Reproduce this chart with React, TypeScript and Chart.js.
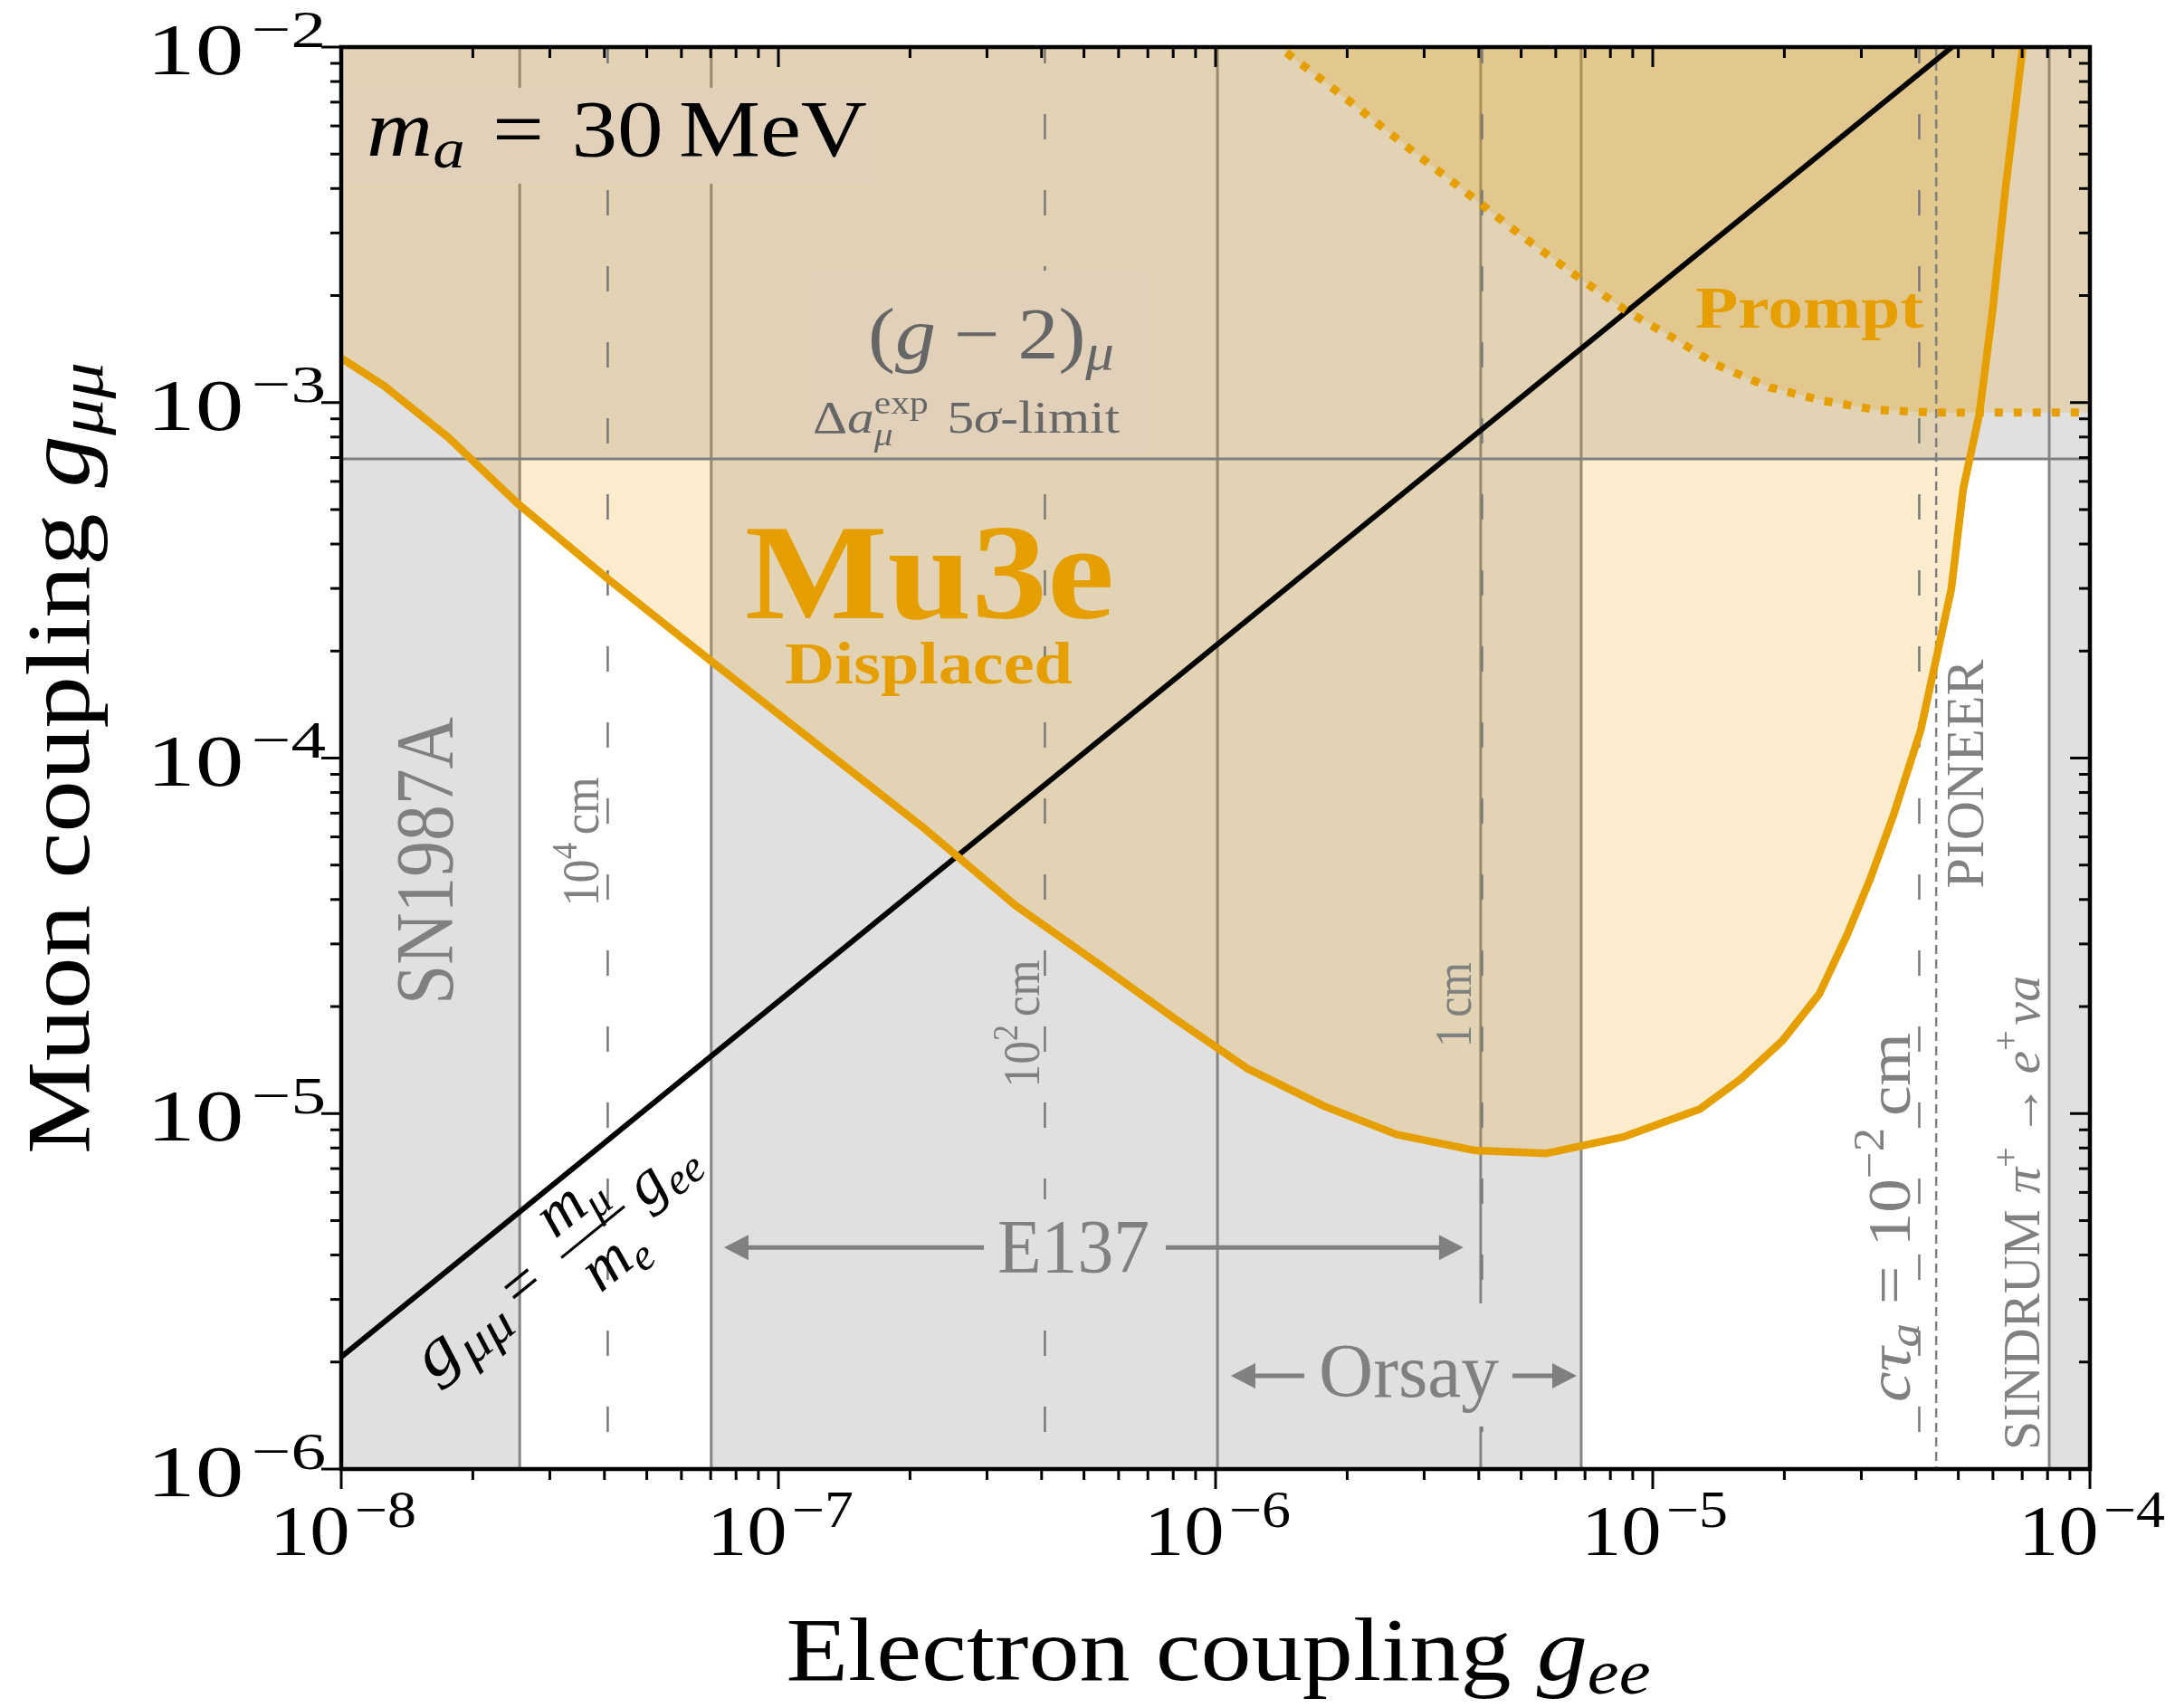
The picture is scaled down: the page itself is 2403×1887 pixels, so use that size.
import React, { useEffect, useRef } from 'react';
import { Chart, registerables } from 'chart.js';
Chart.register(...registerables);

const SERIF = '"Liberation Serif", serif';
const GRAY = '#e0e0e0';
const ORANGE = '#E69F00';
const ORANGE_FILL = 'rgba(230,159,0,0.2)';

// ---------------- data ----------------
const X_RANGE = [1e-8, 1e-4];
const Y_RANGE = [1e-6, 1e-2];
const xTickValues = [1e-8, 1e-7, 1e-6, 1e-5, 1e-4];
const xTickExponents = ['−8', '−7', '−6', '−5', '−4'];
const yTickValues = [1e-6, 1e-5, 1e-4, 1e-3, 1e-2];
const yTickExponents = ['−6', '−5', '−4', '−3', '−2'];

// Mu3e displaced sensitivity boundary
const displacedGee = [1.0e-8, 1.256e-8, 1.754e-8, 2.523e-8, 4.102e-8, 6.902e-8, 1.153e-7, 2.123e-7, 3.483e-7, 5.408e-7, 7.998e-7, 1.18e-6, 1.778e-6, 2.594e-6, 3.926e-6, 5.728e-6, 8.551e-6, 1.282e-5, 1.589e-5, 1.977e-5, 2.404e-5, 2.786e-5, 3.141e-5, 3.556e-5, 4.102e-5, 4.819e-5, 5.129e-5, 5.585e-5, 5.998e-5, 6.412e-5, 6.998e-5, 7.096e-5];
const displacedGmm = [1.334e-3, 1.112e-3, 8.0e-4, 5.22e-4, 3.17e-4, 1.905e-4, 1.159e-4, 6.44e-5, 3.85e-5, 2.63e-5, 1.862e-5, 1.34e-5, 1.047e-5, 8.73e-6, 7.87e-6, 7.73e-6, 8.59e-6, 1.03e-5, 1.25e-5, 1.6e-5, 2.168e-5, 3.19e-5, 4.56e-5, 6.92e-5, 1.199e-4, 2.99e-4, 5.7e-4, 9.27e-4, 1.841e-3, 4.01e-3, 9.66e-3, 1.13e-2];

// Mu3e prompt sensitivity boundary
const promptGee = [1.38e-6, 1.449e-6, 1.816e-6, 2.27e-6, 2.838e-6, 3.556e-6, 4.966e-6, 6.966e-6, 8.71e-6, 1.117e-5, 1.396e-5, 1.849e-5, 2.449e-5, 3.228e-5, 4.276e-5, 1e-4];
const promptGmm = [1.072e-2, 9.66e-3, 7.82e-3, 6.3e-3, 5.07e-3, 4.1e-3, 2.97e-3, 2.19e-3, 1.81e-3, 1.517e-3, 1.279e-3, 1.104e-3, 1.012e-3, 9.55e-4, 9.38e-4, 9.38e-4];

// benchmark g_mumu = (m_mu/m_e) g_ee
const benchmarkGee = [1e-8, 4.836e-5];
const benchmarkGmm = [2.068e-6, 1e-2];

// excluded regions
const sn1987aMax = 2.56e-8;
const e137Range = [7.02e-8, 4.04e-6];
const orsayRange = [1.01e-6, 6.86e-6];
const sindrumMin = 8.07e-5;
const gm2Limit = 6.94e-4;

// decay length contours
const decayLengthGee = [4.07e-8, 4.07e-7, 4.07e-6, 4.07e-5];
const pioneerGee = 4.45e-5;

// experiment arrows: [left tip, right tip, y]
const e137Arrow = [7.51e-8, 3.69e-6, 4.2e-6];
const orsayArrow = [1.084e-6, 6.7e-6, 1.83e-6];

// ---------------- text helper ----------------
type Run = { t: string; s?: number; dy?: number; it?: boolean; b?: boolean; gap?: number; stack?: boolean };

function runFont(size: number, r: Run) {
  return `${r.it ? 'italic ' : ''}${r.b ? 'bold ' : ''}${(size * (r.s ?? 1)).toFixed(1)}px ${SERIF}`;
}

function drawRich(
  ctx: CanvasRenderingContext2D,
  runs: Run[],
  o: { x: number; y: number; size: number; color: string; align?: 'left' | 'center' | 'right'; width?: number; rot?: number }
) {
  ctx.save();
  const layout: { x: number; w: number }[] = [];
  let cur = 0;
  let prevStart = 0;
  let prevW = 0;
  runs.forEach((r) => {
    ctx.font = runFont(o.size, r);
    const w = ctx.measureText(r.t).width;
    const g = (r.gap ?? 0) * o.size;
    if (r.stack) {
      layout.push({ x: prevStart, w });
      cur = Math.max(prevStart + prevW, prevStart + w);
    } else {
      const sx = cur + g;
      layout.push({ x: sx, w });
      prevStart = sx;
      prevW = w;
      cur = sx + w;
    }
  });
  const total = cur;
  const sx = o.width ? o.width / total : 1;
  ctx.translate(o.x, o.y);
  if (o.rot) ctx.rotate(o.rot);
  ctx.scale(sx, 1);
  const off = o.align === 'center' ? -total / 2 : o.align === 'right' ? -total : 0;
  ctx.fillStyle = o.color;
  ctx.textBaseline = 'alphabetic';
  ctx.textAlign = 'left';
  runs.forEach((r, i) => {
    ctx.font = runFont(o.size, r);
    ctx.fillText(r.t, off + layout[i].x, -(r.dy ?? 0) * o.size);
  });
  ctx.restore();
}

function hArrow(ctx: CanvasRenderingContext2D, x1: number, x2: number, y: number, color: string) {
  const hl = 27, hw = 14;
  ctx.save();
  ctx.strokeStyle = color;
  ctx.fillStyle = color;
  ctx.lineWidth = 5;
  ctx.beginPath();
  ctx.moveTo(x1 + hl - 2, y);
  ctx.lineTo(x2 - hl + 2, y);
  ctx.stroke();
  ctx.beginPath();
  ctx.moveTo(x1, y);
  ctx.lineTo(x1 + hl, y - hw);
  ctx.lineTo(x1 + hl, y + hw);
  ctx.closePath();
  ctx.fill();
  ctx.beginPath();
  ctx.moveTo(x2, y);
  ctx.lineTo(x2 - hl, y - hw);
  ctx.lineTo(x2 - hl, y + hw);
  ctx.closePath();
  ctx.fill();
  ctx.restore();
}

const annotations = {
  id: 'annotations',
  afterDatasetsDraw(chart: any) {
    const ctx: CanvasRenderingContext2D = chart.ctx;
    const xs = chart.scales.x;
    const ys = chart.scales.y;
    const LG = '#808080';
    const DG = '#666666';
    ctx.save();

    // parameter box
    ctx.fillStyle = 'rgb(225,209,186)';
    ctx.fillRect(385, 97, 583, 106);
    drawRich(ctx, [
      { t: 'm', it: true },
      { t: 'a', it: true, s: 0.7, dy: -0.15 },
      { t: '=', gap: 0.3 },
      { t: '30', gap: 0.3 },
      { t: 'MeV', gap: 0.17 },
    ], { x: 405, y: 172, size: 88, color: '#000', width: 553 });

    // (g-2) box
    ctx.fillStyle = 'rgb(225,209,186)';
    ctx.fillRect(896, 299, 373, 202);
    drawRich(ctx, [
      { t: '(' },
      { t: 'g', it: true },
      { t: '−', gap: 0.22 },
      { t: '2', gap: 0.22 },
      { t: ')' },
      { t: 'μ', it: true, s: 0.7, dy: -0.15 },
    ], { x: 959, y: 396, size: 80, color: DG, width: 272 });
    drawRich(ctx, [
      { t: 'Δ' },
      { t: 'a', it: true },
      { t: 'exp', s: 0.7, dy: 0.42 },
      { t: 'μ', it: true, s: 0.7, dy: -0.28, stack: true },
      { t: '5', gap: 0.35 },
      { t: 'σ', it: true },
      { t: '-limit' },
    ], { x: 898, y: 478, size: 50, color: DG, width: 339 });

    // Mu3e labels
    drawRich(ctx, [{ t: 'Mu3e', b: true }], { x: 823, y: 683, size: 150, color: ORANGE, width: 408 });
    drawRich(ctx, [{ t: 'Displaced', b: true }], { x: 867, y: 755, size: 66, color: ORANGE, width: 318 });
    drawRich(ctx, [{ t: 'Prompt', b: true }], { x: 1873, y: 362, size: 66, color: ORANGE, width: 252 });

    const R = -Math.PI / 2;
    drawRich(ctx, [{ t: 'SN1987A' }], { x: 500, y: 951, size: 90, color: LG, width: 318, rot: R, align: 'center' });
    drawRich(ctx, [{ t: '10' }, { t: '4', s: 0.7, dy: 0.42 }, { t: 'cm', gap: 0.17 }], { x: 661, y: 930, size: 56, color: LG, width: 143, rot: R, align: 'center' });
    drawRich(ctx, [{ t: '10' }, { t: '2', s: 0.7, dy: 0.42 }, { t: 'cm', gap: 0.17 }], { x: 1148, y: 1131, size: 56, color: LG, width: 141, rot: R, align: 'center' });
    drawRich(ctx, [{ t: '1' }, { t: 'cm', gap: 0.17 }], { x: 1625, y: 1110, size: 56, color: LG, width: 94, rot: R, align: 'center' });
    drawRich(ctx, [
      { t: 'c', it: true },
      { t: 'τ', it: true },
      { t: 'a', it: true, s: 0.7, dy: -0.15 },
      { t: '=', gap: 0.28 },
      { t: '10', gap: 0.28 },
      { t: '−2', s: 0.7, dy: 0.42 },
      { t: 'cm', gap: 0.17 },
    ], { x: 2110, y: 1345, size: 68, color: LG, width: 408, rot: R, align: 'center' });
    drawRich(ctx, [{ t: 'PIONEER' }], { x: 2191, y: 855, size: 60, color: LG, width: 253, rot: R, align: 'center' });
    drawRich(ctx, [
      { t: 'SINDRUM' },
      { t: 'π', it: true, gap: 0.3 },
      { t: '+', s: 0.7, dy: 0.42 },
      { t: '→', gap: 0.2 },
      { t: 'e', it: true, gap: 0.2 },
      { t: '+', s: 0.7, dy: 0.42 },
      { t: 'ν', it: true, gap: 0.1 },
      { t: 'a', it: true },
    ], { x: 2253, y: 1340, size: 57, color: LG, width: 524, rot: R, align: 'center' });

    // E137 arrow
    const ey = ys.getPixelForValue(e137Arrow[2]);
    hArrow(ctx, xs.getPixelForValue(e137Arrow[0]), xs.getPixelForValue(e137Arrow[1]), ey, LG);
    ctx.fillStyle = GRAY;
    ctx.fillRect(1087, 1325, 201, 114);
    drawRich(ctx, [{ t: 'E137' }], { x: 1102, y: 1406, size: 84, color: LG, width: 168 });

    // Orsay arrow
    const oy = ys.getPixelForValue(orsayArrow[2]);
    hArrow(ctx, xs.getPixelForValue(orsayArrow[0]), xs.getPixelForValue(orsayArrow[1]), oy, LG);
    ctx.fillStyle = GRAY;
    ctx.fillRect(1441, 1440, 230, 136);
    drawRich(ctx, [{ t: 'Orsay' }], { x: 1457, y: 1543, size: 84, color: LG, width: 199 });

    // benchmark line label
    const ang = -Math.atan2(chart.chartArea.bottom - chart.chartArea.top, chart.chartArea.right - chart.chartArea.left);
    ctx.save();
    ctx.translate(579, 1423);
    ctx.rotate(ang);
    const S = 70;
    drawRich(ctx, [{ t: 'g', it: true }, { t: 'μμ', it: true, s: 0.75, dy: -0.2, gap: 0.02 }], { x: -34, y: 17, size: 74, color: '#000', align: 'right', width: 108 });
    drawRich(ctx, [{ t: '=' }], { x: 0, y: 17, size: S, color: '#000', align: 'center' });
    ctx.strokeStyle = '#000';
    ctx.lineWidth = 3;
    ctx.beginPath();
    ctx.moveTo(53, 0);
    ctx.lineTo(143, 0);
    ctx.stroke();
    drawRich(ctx, [{ t: 'm', it: true }, { t: 'μ', it: true, s: 0.7, dy: -0.18 }], { x: 98, y: -20, size: S, color: '#000', align: 'center' });
    drawRich(ctx, [{ t: 'm', it: true }, { t: 'e', it: true, s: 0.7, dy: -0.18 }], { x: 98, y: 58, size: S, color: '#000', align: 'center' });
    drawRich(ctx, [{ t: 'g', it: true }, { t: 'ee', it: true, s: 0.7, dy: -0.18 }], { x: 160, y: 17, size: S, color: '#000' });
    ctx.restore();

    ctx.restore();
  },
  afterDraw(chart: any) {
    const ctx: CanvasRenderingContext2D = chart.ctx;
    const xs = chart.scales.x;
    const ys = chart.scales.y;
    const { left, right, top, bottom } = chart.chartArea;
    ctx.save();
    ctx.strokeStyle = '#000';
    ctx.lineCap = 'butt';
    ctx.lineWidth = 3;
    const line = (a: number, b: number, c: number, d: number) => {
      ctx.beginPath();
      ctx.moveTo(a, b);
      ctx.lineTo(c, d);
      ctx.stroke();
    };
    for (let e = -8; e <= -4; e++) {
      for (let m = 1; m <= 9; m++) {
        const v = m * Math.pow(10, e);
        if (v > X_RANGE[1] * 1.0001) break;
        const px = xs.getPixelForValue(v);
        const L = m === 1 ? 22 : 12;
        line(px, bottom, px, bottom + L);
        line(px, top, px, top + L);
      }
    }
    for (let e = -6; e <= -2; e++) {
      for (let m = 1; m <= 9; m++) {
        const v = m * Math.pow(10, e);
        if (v > Y_RANGE[1] * 1.0001) break;
        const py = ys.getPixelForValue(v);
        const L = m === 1 ? 22 : 12;
        line(left - L, py, left, py);
        line(right - L, py, right, py);
      }
    }
    ctx.lineWidth = 4.5;
    ctx.strokeRect(left, top, right - left, bottom - top);

    xTickValues.forEach((v, i) => {
      const px = xs.getPixelForValue(v);
      drawRich(ctx, [{ t: '10' }, { t: xTickExponents[i], s: 0.72, dy: 0.38, gap: 0.06 }], { x: px + 2, y: bottom + 94, size: 78, color: '#000', align: 'center', width: 162 });
    });
    yTickValues.forEach((v, i) => {
      const py = ys.getPixelForValue(v);
      drawRich(ctx, [{ t: '10' }, { t: yTickExponents[i], s: 0.72, dy: 0.38, gap: 0.08 }], { x: left - 17, y: py + 30, size: 80, color: '#000', align: 'right', width: 198 });
    });

    drawRich(ctx, [{ t: 'Electron coupling ' }, { t: 'g', it: true }, { t: 'ee', it: true, s: 0.7, dy: -0.15 }], { x: (left + right) / 2 + 3, y: 1856, size: 100, color: '#000', align: 'center', width: 955 });
    drawRich(ctx, [{ t: 'Muon coupling ' }, { t: 'g', it: true }, { t: 'μμ', it: true, s: 0.7, dy: -0.15 }], { x: 98, y: (top + bottom) / 2, size: 100, color: '#000', align: 'center', width: 875, rot: -Math.PI / 2 });
    ctx.restore();
  },
};

export default function App() {
  const ref = useRef<HTMLCanvasElement>(null);
  useEffect(() => {
    const canvas = ref.current!;
    const pts = (xv: number[], yv: number[]) => xv.map((x, i) => ({ x, y: yv[i] }));
    const vline = (x: number) => [{ x, y: Y_RANGE[1] }, { x, y: Y_RANGE[0] }];
    const band = (a: number, b: number) => [{ x: a, y: Y_RANGE[1] }, { x: b, y: Y_RANGE[1] }];
    const NONE = 'rgba(0,0,0,0)';
    const base = { pointRadius: 0, pointHoverRadius: 0, tension: 0, clip: 0, fill: false };
    const datasets: any[] = [];

    [[X_RANGE[0], sn1987aMax], e137Range, orsayRange, [sindrumMin, X_RANGE[1]]].forEach(([a, b]) =>
      datasets.push({ ...base, data: band(a, b), fill: 'start', backgroundColor: GRAY, borderColor: NONE, borderWidth: 1, order: 100 })
    );
    datasets.push({ ...base, data: [{ x: X_RANGE[0], y: gm2Limit }, { x: X_RANGE[1], y: gm2Limit }], fill: 'end', backgroundColor: GRAY, borderColor: NONE, borderWidth: 1, order: 100 });

    [sn1987aMax, e137Range[0], e137Range[1], orsayRange[0], orsayRange[1], sindrumMin].forEach((x) =>
      datasets.push({ ...base, data: vline(x), borderColor: '#858585', borderWidth: 3, order: 90 })
    );

    datasets.push({ ...base, data: pts(displacedGee, displacedGmm), fill: 'end', backgroundColor: ORANGE_FILL, borderColor: NONE, borderWidth: 1, order: 80 });
    datasets.push({ ...base, data: pts(promptGee, promptGmm), fill: 'end', backgroundColor: ORANGE_FILL, borderColor: NONE, borderWidth: 1, order: 79 });

    decayLengthGee.forEach((x) =>
      datasets.push({ ...base, data: vline(x), borderColor: '#787878', borderWidth: 2.5, borderDash: [28, 56], borderDashOffset: 10, order: 60 })
    );
    datasets.push({ ...base, data: vline(pioneerGee), borderColor: '#808080', borderWidth: 2.5, borderDash: [10, 6], order: 60 });

    datasets.push({ ...base, data: [{ x: X_RANGE[0], y: gm2Limit }, { x: X_RANGE[1], y: gm2Limit }], borderColor: '#808080', borderWidth: 3, order: 50 });

    datasets.push({ ...base, data: pts(benchmarkGee, benchmarkGmm), borderColor: '#000', borderWidth: 6, order: 12 });
    datasets.push({ ...base, data: pts(promptGee, promptGmm), borderColor: ORANGE, borderWidth: 9, borderDash: [9, 12], borderCapStyle: 'butt', order: 11 });
    datasets.push({ ...base, data: pts(displacedGee, displacedGmm), borderColor: ORANGE, borderWidth: 8.5, borderJoinStyle: 'round', order: 10 });

    const chart = new Chart(canvas, {
      type: 'line',
      data: { datasets },
      options: {
        animation: false,
        responsive: false,
        events: [],
        layout: { padding: { left: 377, top: 52, right: 2403 - 2309, bottom: 1887 - 1623 } },
        scales: {
          x: { type: 'logarithmic', min: X_RANGE[0], max: X_RANGE[1], display: false },
          y: { type: 'logarithmic', min: Y_RANGE[0], max: Y_RANGE[1], display: false },
        },
        plugins: { legend: { display: false }, tooltip: { enabled: false } },
      },
      plugins: [annotations],
    } as any);
    return () => chart.destroy();
  }, []);
  return (
    <div style={{ position: 'fixed', left: 0, top: 0, width: 2403, height: 1887, background: '#fff' }}>
      <canvas ref={ref} width={2403} height={1887} style={{ display: 'block', width: 2403, height: 1887 }} />
    </div>
  );
}
